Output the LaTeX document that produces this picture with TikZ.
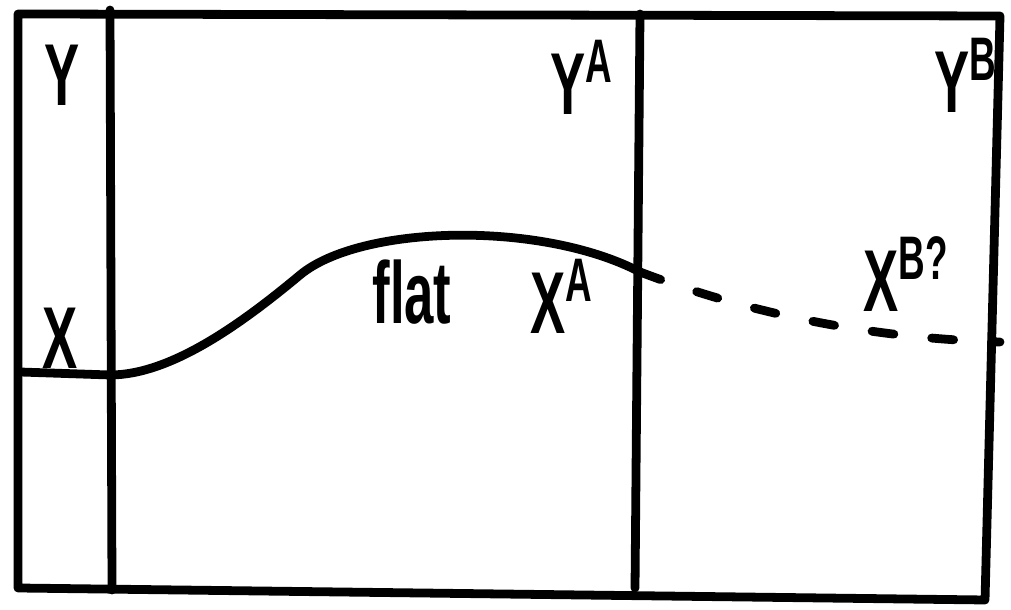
\documentclass[tikz,border=0pt]{standalone}
\usepackage{fontspec}
\setmainfont{Liberation Sans}
\usepackage{tikz}

\begin{document}
\begin{tikzpicture}[line width=2.5pt, line cap=round, line join=round,
  lbl/.style={font=\fontsize{25}{27}\selectfont\bfseries, xscale=0.6, inner sep=0pt}]
  \useasboundingbox (0,0) rectangle (10.11,6.10);
  % frame and walls
  \draw (0.18,5.96) -- (10.00,5.94) -- (9.85,0.10) -- (0.18,0.22) -- cycle;
  \draw (1.10,6.00) -- (1.12,0.20);
  \draw (6.40,5.96) -- (6.35,0.22);
  % path
  \coordinate (start) at (0.20,2.38);
  \coordinate (wallA) at (1.10,2.35);
  \coordinate (bend) at (3.00,3.35);
  \coordinate (endA) at (6.40,3.38);
  \coordinate (endB) at (10.00,2.68);
  \draw (start) -- (wallA);
  \draw (wallA) .. controls (1.7,2.35) and (2.4,2.85) .. (bend)
    .. controls (3.6,3.85) and (5.4,3.9) .. (endA);
  \draw[dash pattern=on 0.22cm off 0.38cm] (endA) .. controls (7.4,3.0) and (8.6,2.72) .. (endB);
  % labels
  \node[lbl] (y) at (0.62,5.35) {Y};
  \node[lbl] (yA) at (5.82,5.33) {Y\textsuperscript{A}};
  \node[lbl] (yB) at (9.66,5.35) {Y\textsuperscript{B}};
  \node[lbl] (x) at (0.60,2.72) {X};
  \node[lbl] (flat) at (4.12,3.18) {flat};
  \node[lbl] (xA) at (5.62,3.14) {X\textsuperscript{A}};
  \node[lbl] (xB) at (9.06,3.36) {X\textsuperscript{B?}};
\end{tikzpicture}
\end{document}
